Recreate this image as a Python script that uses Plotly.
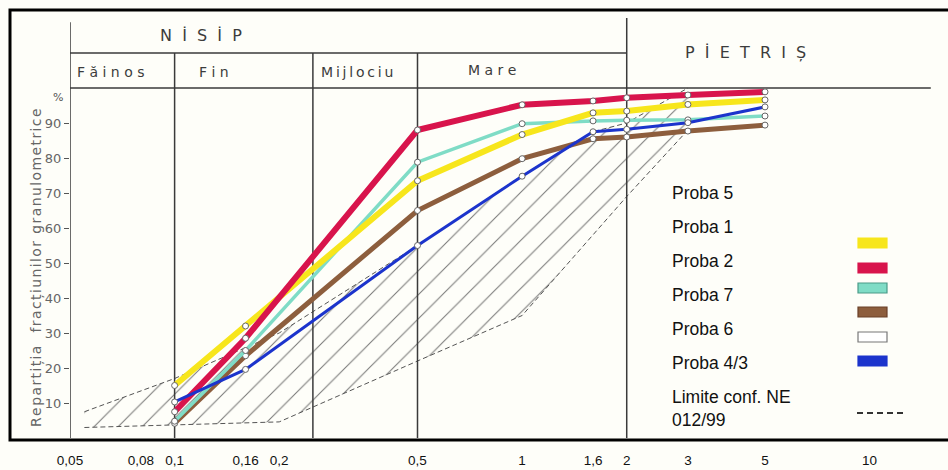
import math
import plotly.graph_objects as go

# ---------------- data ----------------
sieve_mm = [0.1, 0.16, 0.5, 1, 1.6, 2, 3, 5]
proba5_yellow = [15, 32, 73.5, 86.7, 92.9, 93.4, 95.3, 96.6]
proba1_red = [7.5, 28.5, 88, 95.2, 96.3, 97.2, 98, 98.9]
proba2_teal = [4.8, 25, 78.8, 89.8, 90.6, 90.8, 90.9, 92]
proba7_brown = [4.2, 23.5, 65, 79.8, 85.5, 86, 87.7, 89.4]
proba43_blue = [10.3, 19.6, 55, 74.8, 87.5, 88.2, 90.1, 94.6]

limit_upper_mm = [0.055, 0.1, 0.2, 0.5, 1, 1.6, 2, 3]
limit_upper = [7.5, 17, 30, 55, 75, 87.5, 90, 100]
limit_lower_mm = [0.055, 0.2, 0.5, 1, 2, 3]
limit_lower = [3, 4.6, 22, 35, 69, 88]

xtick_vals = [0.05, 0.08, 0.1, 0.16, 0.2, 0.5, 1, 1.6, 2, 3, 5, 10]
xtick_text = ["0,05", "0,08", "0,1", "0,16", "0,2", "0,5", "1", "1,6", "2", "3", "5", "10"]
ytick_vals = [10, 20, 30, 40, 50, 60, 70, 80, 90]

zone_bounds_mm = [0.05, 0.1, 0.25, 0.5, 2]
legend_labels = ["Proba 5", "Proba 1", "Proba 2", "Proba 7", "Proba 6", "Proba 4/3",
                 "Limite conf. NE<br>012/99"]

# ---------------- styles ----------------
C_YELLOW = "#f7e61c"
C_RED = "#d8144c"
C_TEAL = "#7fdcc6"
C_BROWN = "#8d5e3d"
C_BLUE = "#1c34cc"
C_INK = "#3a3a3a"

W, H = 948, 470
L, R, T, B = 70, 0, 18, 32
PW, PH = W - L - R, H - T - B
PX_PER_DEC = 347.5
x0log = math.log10(0.05)
xrange = [x0log, x0log + PW / PX_PER_DEC]

HS = "\u200a"  # hair space for letter spacing


def spaced(s, sep):
    return sep.join(list(s))


def P(px, py):
    return (px - L) / PW, (H - B - py) / PH


fig = go.Figure()

# hatched conformity zone
poly_x = limit_upper_mm + limit_lower_mm[::-1]
poly_y = limit_upper + limit_lower[::-1]
fig.add_trace(go.Scatter(
    x=poly_x, y=poly_y, mode="lines", fill="toself",
    fillcolor="rgba(0,0,0,0)", line=dict(width=0),
    fillpattern=dict(shape="/", fgcolor="#555555", bgcolor="rgba(0,0,0,0)",
                     size=17, solidity=0.06, fgopacity=0.8),
    hoverinfo="skip", showlegend=False))
for xs, ys in [(limit_upper_mm, limit_upper), (limit_lower_mm, limit_lower)]:
    fig.add_trace(go.Scatter(x=xs, y=ys, mode="lines",
                             line=dict(color="#555555", width=1, dash="5px,3px"),
                             showlegend=False, hoverinfo="skip"))

# zone / header lines
for xb in zone_bounds_mm:
    top = 110
    if xb == 2:
        top = 120
    if xb == 0.05:
        top = 118.8
    fig.add_trace(go.Scatter(x=[xb, xb], y=[-1, top], mode="lines",
                             line=dict(color=C_INK, width=1.5),
                             showlegend=False, hoverinfo="skip"))
fig.add_trace(go.Scatter(x=[0.05, 2], y=[110, 110], mode="lines",
                         line=dict(color=C_INK, width=1.5), showlegend=False, hoverinfo="skip"))
fig.add_trace(go.Scatter(x=[0.05, 15], y=[100, 100], mode="lines",
                         line=dict(color=C_INK, width=1.5), showlegend=False, hoverinfo="skip"))

# sample curves
series = [
    ("Proba 7", proba7_brown, C_BROWN, 5),
    ("Proba 2", proba2_teal, C_TEAL, 3.5),
    ("Proba 5", proba5_yellow, C_YELLOW, 6),
    ("Proba 1", proba1_red, C_RED, 6),
    ("Proba 4/3", proba43_blue, C_BLUE, 3),
]
for name, ys, col, w in series:
    fig.add_trace(go.Scatter(
        x=sieve_mm, y=ys, mode="lines+markers", name=name,
        line=dict(color=col, width=w),
        marker=dict(size=6, color="white", line=dict(color="#666666", width=1)),
        showlegend=False))

annotations = []
shapes = []

# frame
fx0, fy1 = P(10, 10)
fx1, fy0 = P(960, 440)
shapes.append(dict(type="rect", xref="paper", yref="paper", x0=fx0, x1=fx1, y0=fy0, y1=fy1,
                   line=dict(color="black", width=3), layer="above"))

# header texts
hdr_font = dict(family="DejaVu Sans", size=16, color="#3c3c3c")
sub_font = dict(family="DejaVu Sans", size=14, color="#3c3c3c")
for txt, px, py, f in [
    (spaced("NİSİP", "  "), 201, 36, hdr_font),
    (spaced("PİETRIȘ", "  "), 745, 52, hdr_font),
    (spaced("Făinos", " "), 111, 72, sub_font),
    (spaced("Fin", " "), 214, 72, sub_font),
    (spaced("Mijlociu", "\u2009"), 357, 72, sub_font),
    (spaced("Mare", " "), 492, 70, sub_font),
]:
    ax, ay = P(px, py)
    annotations.append(dict(x=ax, y=ay, xref="paper", yref="paper", text=txt,
                            showarrow=False, font=f, xanchor="center", yanchor="middle"))

# y title & percent sign
ax, ay = P(36, 268)
annotations.append(dict(x=ax, y=ay, xref="paper", yref="paper",
                        text=spaced("Repartiția  fracțiunilor granulometrice", HS), textangle=-90,
                        showarrow=False, font=dict(family="DejaVu Sans", size=14, color="#666666"),
                        xanchor="center", yanchor="middle"))
ax, ay = P(58, 97)
annotations.append(dict(x=ax, y=ay, xref="paper", yref="paper", text="%",
                        showarrow=False, font=dict(family="DejaVu Sans", size=11, color="#555555"),
                        xanchor="center", yanchor="middle"))

# legend
label_y = [193, 227, 261, 295, 329, 363, 408]
for lab, py in zip(legend_labels, label_y):
    ax, ay = P(670, py)
    annotations.append(dict(x=ax, y=ay, xref="paper", yref="paper", text=lab,
                            showarrow=False, align="left",
                            font=dict(family="Liberation Sans", size=17.5, color="#111111"),
                            xanchor="left", yanchor="middle"))
swatches = [(243, C_YELLOW, C_YELLOW), (268, C_RED, C_RED), (288, C_TEAL, "#4a9a88"),
            (312, C_BROWN, "#6a4028"), (337, "white", "#777777"), (361, C_BLUE, C_BLUE)]
for py, fillc, linec in swatches:
    sx0, sy0 = P(858, py + 5)
    sx1, sy1 = P(887, py - 5)
    shapes.append(dict(type="rect", xref="paper", yref="paper", x0=sx0, x1=sx1, y0=sy0, y1=sy1,
                       fillcolor=fillc, line=dict(color=linec, width=1.2)))
dx0, dy = P(857, 413)
dx1, _ = P(904, 413)
shapes.append(dict(type="line", xref="paper", yref="paper", x0=dx0, x1=dx1, y0=dy, y1=dy,
                   line=dict(color="#333333", width=2, dash="6px,4px")))

fig.update_layout(
    width=W, height=H,
    margin=dict(l=L, r=R, t=T, b=B),
    paper_bgcolor="#fefef9", plot_bgcolor="#fefef9",
    showlegend=False,
    annotations=annotations, shapes=shapes,
    xaxis=dict(type="log", range=xrange, tickvals=xtick_vals, ticktext=xtick_text,
               showgrid=False, zeroline=False, showline=False,
               ticks="outside", ticklen=10, tickcolor="rgba(0,0,0,0)",
               tickfont=dict(family="Liberation Sans", size=13.5, color="#111111")),
    yaxis=dict(range=[0, 120], tickvals=ytick_vals, showgrid=False, zeroline=False,
               showline=False, ticks="outside", ticklen=5, tickcolor="#555555",
               tickfont=dict(family="DejaVu Sans", size=13, color="#666666")),
)

fig.write_html("out.html", config={"displayModeBar": False},
               post_script="document.body.style.margin='0';")
